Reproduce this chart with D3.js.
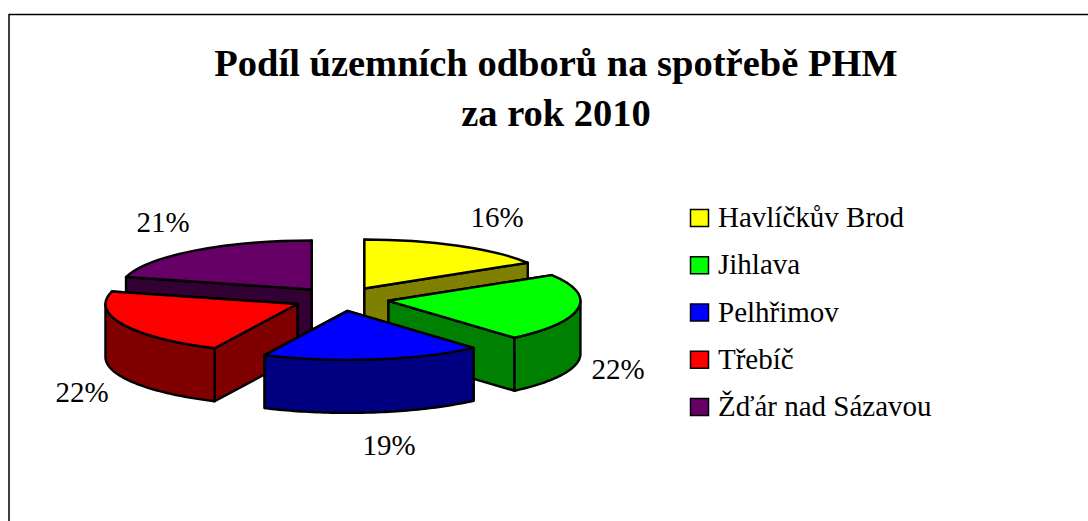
<!DOCTYPE html>
<html>
<head>
<meta charset="utf-8">
<script src="https://cdnjs.cloudflare.com/ajax/libs/d3/7.9.0/d3.min.js"></script>
<style>
  html, body { margin: 0; padding: 0; background: #fff; overflow: hidden; }
  text { font-family: "Liberation Serif", serif; fill: #000; }
</style>
</head>
<body>
<script>
const categories = ["Havlíčkův Brod", "Jihlava", "Pelhřimov", "Třebíč", "Žďár nad Sázavou"];
const shares = [16.2, 22.4, 18.5, 22.0, 20.9];
const topColors = ["#ffff00", "#00ff00", "#0000ff", "#ff0000", "#660066"];
const sideColors = ["#808000", "#008000", "#000080", "#800000", "#330033"];
const titleLines = ["Podíl územních odborů na spotřebě PHM", "za rok 2010"];

const width = 1088, height = 521;
// pie geometry
const cx = 341, cy = 299, rx = 192, ry = 49, depth = 53;
const explodeX = 48, explodeY = 12;
const labelPos = [[497, 217], [618, 369], [389, 445], [82, 392], [163, 222]];
// back to front
const drawOrder = [4, 0, 1, 3, 2];

const svg = d3.select("body").append("svg")
  .attr("width", width)
  .attr("height", height)
  .style("display", "block");

// chart frame, right and bottom are cut off by the window
svg.append("path")
  .attr("d", "M9,521V14.5H1088")
  .attr("fill", "none")
  .attr("stroke", "#000")
  .attr("stroke-width", 1.5);

svg.selectAll("text.title")
  .data(titleLines)
  .enter()
  .append("text")
  .attr("class", "title")
  .attr("x", 556)
  .attr("y", (d, i) => 76 + i * 50)
  .attr("text-anchor", "middle")
  .attr("font-size", 38.5)
  .attr("font-weight", "bold")
  .text(d => d);

const pie = d3.pie().sort(null).value(d => d);
const slices = pie(shares);
const arc = d3.arc().innerRadius(0).outerRadius(rx);
const total = d3.sum(shares);
const pct = d3.format(".0%");

const line = d3.line();
const rim = (a, o) => [o[0] + rx * Math.sin(a), o[1] - ry * Math.cos(a)];

drawOrder.forEach(i => {
  const s = slices[i];
  const mid = (s.startAngle + s.endAngle) / 2;
  const o = [cx + explodeX * Math.sin(mid), cy - explodeY * Math.cos(mid)];
  const g = svg.append("g");
  const down = p => [p[0], p[1] + depth];

  // two cut faces first, the one further back goes down before the nearer one
  [s.startAngle, s.endAngle]
    .map(a => rim(a, o))
    .sort((p, q) => p[1] - q[1])
    .forEach(p => {
      g.append("path")
        .attr("d", line([o, p, down(p), down(o)]) + "Z")
        .attr("fill", sideColors[i])
        .attr("stroke", "#000")
        .attr("stroke-width", 2.4)
        .attr("stroke-linejoin", "round");
    });

  // outer wall, only the part that faces the viewer
  const a0 = Math.max(s.startAngle, Math.PI / 2);
  const a1 = Math.min(s.endAngle, Math.PI * 1.5);
  if (a1 > a0) {
    const angles = d3.range(a0, a1, 0.02).concat([a1]);
    const topEdge = angles.map(a => rim(a, o));
    const wall = topEdge.concat(topEdge.map(down).reverse());
    g.append("path")
      .attr("d", line(wall) + "Z")
      .attr("fill", sideColors[i])
      .attr("stroke", "#000")
      .attr("stroke-width", 2.4)
      .attr("stroke-linejoin", "round");
  }

  // top face
  g.append("path")
    .attr("transform", `translate(${o[0]},${o[1]}) scale(1,${ry / rx})`)
    .attr("d", arc(s))
    .attr("fill", topColors[i])
    .attr("stroke", "#000")
    .attr("stroke-width", 2.4)
    .attr("stroke-linejoin", "round")
    .attr("vector-effect", "non-scaling-stroke");
});

svg.selectAll("text.pct")
  .data(slices)
  .enter()
  .append("text")
  .attr("class", "pct")
  .attr("x", (d, i) => labelPos[i][0])
  .attr("y", (d, i) => labelPos[i][1] + 10)
  .attr("text-anchor", "middle")
  .attr("font-size", 29)
  .text(d => pct(d.value / total));

const legendY = d3.scalePoint().domain(categories).range([218, 407]);
const legend = svg.selectAll("g.legend")
  .data(categories)
  .enter()
  .append("g")
  .attr("class", "legend")
  .attr("transform", d => `translate(690,${legendY(d)})`);
legend.append("rect")
  .attr("x", 0.5)
  .attr("y", -8.5)
  .attr("width", 18)
  .attr("height", 17)
  .attr("fill", (d, i) => topColors[i])
  .attr("stroke", "#000")
  .attr("stroke-width", 1.5);
legend.append("text")
  .attr("x", 28)
  .attr("y", 9)
  .attr("font-size", 29)
  .text(d => d);
</script>
</body>
</html>
